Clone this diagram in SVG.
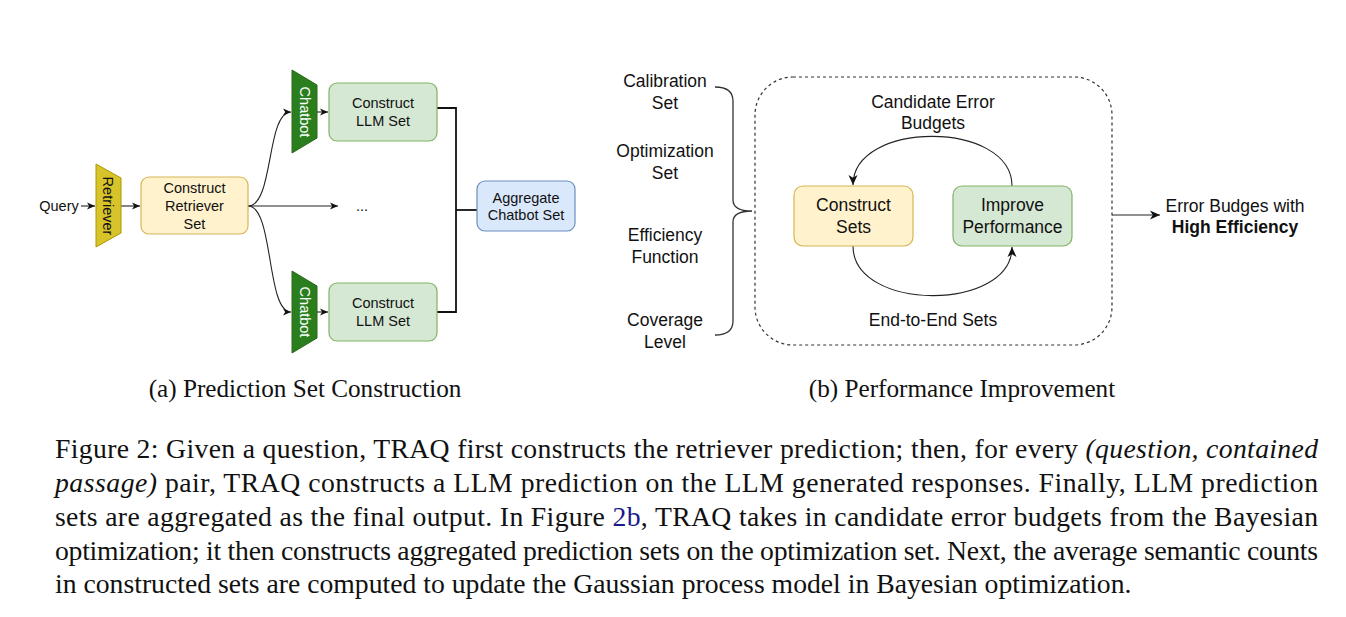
<svg xmlns="http://www.w3.org/2000/svg" width="1346" height="617" viewBox="0 0 1346 617">
<style>
.sa{font-family:"Liberation Sans",Arial,sans-serif;font-size:14.5px;fill:#111;text-anchor:middle}
.sb{font-family:"Liberation Sans",Arial,sans-serif;font-size:17.5px;fill:#111;text-anchor:middle}
.cap{font-family:"Liberation Serif","Times New Roman",serif;font-size:25.2px;fill:#111;text-anchor:middle}
.main{font-family:"Liberation Serif","Times New Roman",serif;font-size:27.7px;fill:#111}
.yel{fill:#fff2cc;stroke:#d6b656;stroke-width:1.2}
.grn{fill:#d5e8d4;stroke:#82b366;stroke-width:1.2}
.blu{fill:#dae8fc;stroke:#6c8ebf;stroke-width:1.2}
.con{fill:none;stroke:#222;stroke-width:1.1}
.thick{fill:none;stroke:#111;stroke-width:1.8}
</style>
<defs>
<marker id="ah" markerWidth="10" markerHeight="8" refX="8" refY="4" orient="auto" markerUnits="userSpaceOnUse">
<path d="M0,0.5 L8,4 L0,7.5 L2.2,4 z" fill="#111"/>
</marker>
<marker id="ahb" markerWidth="12" markerHeight="10" refX="10" refY="5" orient="auto" markerUnits="userSpaceOnUse">
<path d="M0,0.5 L10,5 L0,9.5 L2.8,5 z" fill="#111"/>
</marker>
</defs>
<rect width="1346" height="617" fill="#fff"/>

<g id="connectors">
<line class="con" x1="81" y1="206" x2="95" y2="206" marker-end="url(#ah)"/>
<line class="con" x1="121" y1="206" x2="140" y2="206" marker-end="url(#ah)"/>
<path class="con" d="M248,206 C274,206 266,112 291,112" marker-end="url(#ah)"/>
<path class="con" d="M248,206 L338,206" marker-end="url(#ah)"/>
<path class="con" d="M248,206 C274,206 266,312 291,312" marker-end="url(#ah)"/>
<line class="con" x1="317" y1="112" x2="328" y2="112" marker-end="url(#ah)"/>
<line class="con" x1="317" y1="312" x2="328" y2="312" marker-end="url(#ah)"/>
<path class="thick" d="M437,108 H456 V312 H437"/>
<path class="thick" d="M456,210 H477"/>
<path class="con" d="M1012,186 C1012,120 853,120 853,185" marker-end="url(#ahb)"/>
<path class="con" d="M853,246 C853,312 1012,312 1012,247" marker-end="url(#ahb)"/>
<line class="con" x1="1112" y1="215" x2="1160" y2="215" marker-end="url(#ahb)"/>
<path fill="none" stroke="#333" stroke-width="1.3" d="M715,87 Q733,87 733,101 V200 Q733,211 752,211 Q733,211 733,222 V321 Q733,335 715,335"/>
</g>

<g id="query"><text class="sa" x="59" y="211">Query</text></g>
<g id="retriever">
<polygon points="96,164 121,178 121,233 96,247" fill="#d7c42b" stroke="#b09500" stroke-width="1"/>
<text class="sa" transform="translate(103,206) rotate(90)" y="0" x="0">Retriever</text>
</g>
<g id="retriever-set">
<rect class="yel" x="141" y="177" width="107" height="57" rx="8"/>
<text class="sa" x="194.5" y="193">Construct</text>
<text class="sa" x="194.5" y="211">Retriever</text>
<text class="sa" x="194.5" y="229">Set</text>
</g>
<g id="chatbot-top">
<polygon points="292,70 317,85 317,138 292,153" fill="#2a7e1e" stroke="#286b1b" stroke-width="1"/>
<text class="sa" transform="translate(299.5,112) rotate(90)" style="fill:#fff">Chatbot</text>
</g>
<g id="chatbot-bottom">
<polygon points="292,271 317,286 317,338 292,353" fill="#2a7e1e" stroke="#286b1b" stroke-width="1"/>
<text class="sa" transform="translate(299.5,312) rotate(90)" style="fill:#fff">Chatbot</text>
</g>
<g id="llm-top">
<rect class="grn" x="329" y="83" width="108" height="58" rx="8"/>
<text class="sa" x="383" y="108">Construct</text>
<text class="sa" x="383" y="126">LLM Set</text>
</g>
<g id="llm-bottom">
<rect class="grn" x="329" y="283" width="108" height="58" rx="8"/>
<text class="sa" x="383" y="308">Construct</text>
<text class="sa" x="383" y="326">LLM Set</text>
</g>
<g id="ellipsis"><text class="sa" x="362" y="211">...</text></g>
<g id="aggregate">
<rect class="blu" x="477" y="181" width="98" height="50" rx="8"/>
<text class="sa" x="526" y="203">Aggregate</text>
<text class="sa" x="526" y="220">Chatbot Set</text>
</g>
<text class="cap" x="305" y="397">(a) Prediction Set Construction</text>

<g id="inputs">
<text class="sb" x="665" y="87">Calibration</text>
<text class="sb" x="665" y="109">Set</text>
<text class="sb" x="665" y="157">Optimization</text>
<text class="sb" x="665" y="179">Set</text>
<text class="sb" x="665" y="241">Efficiency</text>
<text class="sb" x="665" y="263">Function</text>
<text class="sb" x="665" y="326">Coverage</text>
<text class="sb" x="665" y="348">Level</text>
</g>
<g id="loop-box">
<rect x="755" y="77" width="357" height="268" rx="38" fill="none" stroke="#333" stroke-width="1.2" stroke-dasharray="3,3"/>
</g>
<g id="construct-sets">
<rect class="yel" x="794" y="186" width="119" height="60" rx="9"/>
<text class="sb" x="853.5" y="211">Construct</text>
<text class="sb" x="853.5" y="233">Sets</text>
</g>
<g id="improve">
<rect class="grn" x="953" y="186" width="119" height="60" rx="9"/>
<text class="sb" x="1012.5" y="211">Improve</text>
<text class="sb" x="1012.5" y="233">Performance</text>
</g>
<g id="labels-b">
<text class="sb" x="933" y="108">Candidate Error</text>
<text class="sb" x="933" y="129">Budgets</text>
<text class="sb" x="933" y="326">End-to-End Sets</text>
</g>
<g id="output">
<text class="sb" x="1235" y="212">Error Budges with</text>
<text class="sb" x="1235" y="233" font-weight="bold">High Efficiency</text>
</g>
<text class="cap" x="962" y="397">(b) Performance Improvement</text>

<g id="caption">
<text class="main" x="55" y="458" textLength="1263" lengthAdjust="spacing">Figure 2: Given a question, TRAQ first constructs the retriever prediction; then, for every <tspan font-style="italic">(question, contained</tspan></text>
<text class="main" x="55" y="492" textLength="1263" lengthAdjust="spacing"><tspan font-style="italic">passage)</tspan> pair, TRAQ constructs a LLM prediction on the LLM generated responses.  Finally, LLM prediction</text>
<text class="main" x="55" y="526" textLength="1263" lengthAdjust="spacing">sets are aggregated as the final output. In Figure <tspan fill="#1a1a8c">2b</tspan>, TRAQ takes in candidate error budgets from the Bayesian</text>
<text class="main" x="55" y="560" textLength="1263" lengthAdjust="spacing">optimization; it then constructs aggregated prediction sets on the optimization set. Next, the average semantic counts</text>
<text class="main" x="55" y="593">in constructed sets are computed to update the Gaussian process model in Bayesian optimization.</text>
</g>
</svg>
